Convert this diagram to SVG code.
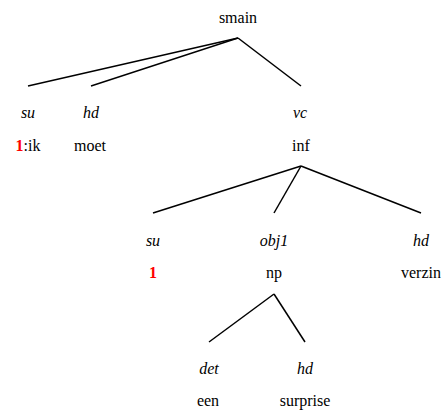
<svg xmlns="http://www.w3.org/2000/svg" width="448" height="412" viewBox="0 0 448 412">
<style>
text{font-family:"Liberation Serif","Times New Roman",serif;font-size:16px;text-anchor:middle;fill:#000}
.rel{font-style:italic}
.idx{fill:#ff0000;font-weight:bold}
.edge{stroke:#000;stroke-width:1.5;fill:none}
</style>
<rect width="448" height="412" fill="#fff"/>
<g id="connectors">
<line class="edge" x1="238" y1="38" x2="28" y2="86"/>
<line class="edge" x1="238" y1="38" x2="91" y2="86"/>
<line class="edge" x1="238" y1="38" x2="301" y2="86"/>
<line class="edge" x1="301" y1="166" x2="153" y2="213"/>
<line class="edge" x1="301" y1="166" x2="274" y2="213"/>
<line class="edge" x1="301" y1="166" x2="421" y2="213"/>
<line class="edge" x1="274" y1="294" x2="209" y2="342"/>
<line class="edge" x1="274" y1="294" x2="305" y2="342"/>
</g>
<g id="smain"><text x="238" y="23">smain</text></g>
<g id="su1"><text class="rel" x="28" y="118">su</text><text x="28" y="151"><tspan class="idx">1</tspan>:ik</text></g>
<g id="hd1"><text class="rel" x="91" y="118">hd</text><text x="90" y="151">moet</text></g>
<g id="vc"><text class="rel" x="300" y="118">vc</text><text x="301" y="151">inf</text></g>
<g id="su2"><text class="rel" x="153" y="246">su</text><text class="idx" x="153" y="278">1</text></g>
<g id="obj1"><text class="rel" x="274" y="246">obj1</text><text x="274" y="278">np</text></g>
<g id="hd2"><text class="rel" x="421" y="246">hd</text><text x="421" y="278">verzin</text></g>
<g id="det"><text class="rel" x="209" y="374">det</text><text x="208" y="406">een</text></g>
<g id="hd3"><text class="rel" x="305" y="374">hd</text><text x="305" y="406">surprise</text></g>
</svg>
